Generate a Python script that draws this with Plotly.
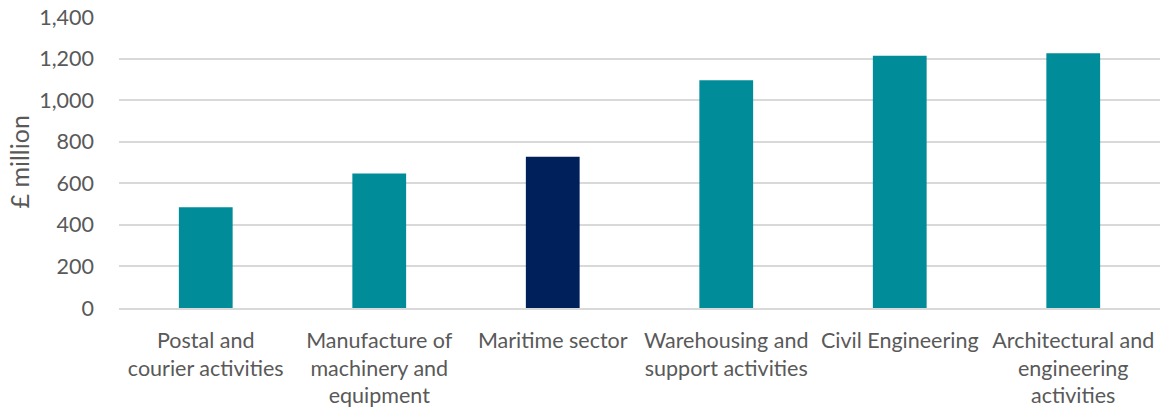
import plotly.graph_objects as go

categories = [
    "Postal and<br>courier activities",
    "Manufacture of<br>machinery and<br>equipment",
    "Maritime sector",
    "Warehousing and<br>support activities",
    "Civil Engineering",
    "Architectural and<br>engineering<br>activities",
]
values = [485, 648, 728, 1097, 1214, 1227]
bar_colors = ["#008C99", "#008C99", "#00205B", "#008C99", "#008C99", "#008C99"]

tick_vals = [0, 200, 400, 600, 800, 1000, 1200, 1400]
tick_text = ["0", "200", "400", "600", "800", "1,000", "1,200", "1,400"]
y_title = "£ million"

fig = go.Figure(
    go.Bar(
        x=categories,
        y=values,
        marker=dict(color=bar_colors, line=dict(width=0)),
        width=0.31,
    )
)

font_family = "Lato, 'Open Sans', sans-serif"
fig.update_layout(
    width=1162,
    height=412,
    margin=dict(l=119, r=2, t=17, b=104),
    paper_bgcolor="white",
    plot_bgcolor="white",
    showlegend=False,
    font=dict(family=font_family, size=21, color="#595959"),
    bargap=0.69,
)
fig.add_annotation(
    text=y_title,
    xref="paper",
    yref="paper",
    x=0,
    y=0.5,
    xshift=-101,
    xanchor="center",
    yanchor="middle",
    textangle=-90,
    showarrow=False,
    font=dict(size=25, color="#595959", family=font_family),
)
fig.update_yaxes(
    range=[0, 1401],
    tickvals=tick_vals,
    ticktext=tick_text,
    showgrid=True,
    gridcolor="#D9D9D9",
    gridwidth=1.5,
    zeroline=False,
    showline=False,
    ticks="",
    ticklabelstandoff=24,
    ticklabeloverflow="allow",
    tickfont=dict(size=21.5, color="#595959"),
)
fig.update_xaxes(
    showgrid=False,
    showline=True,
    linecolor="#D9D9D9",
    linewidth=1.5,
    ticks="",
    ticklabelstandoff=12,
    tickfont=dict(size=21.5, color="#595959"),
    tickangle=0,
)

fig.write_html(
    "out.html",
    config={"displayModeBar": False},
    post_script="document.body.style.margin='0';",
)
